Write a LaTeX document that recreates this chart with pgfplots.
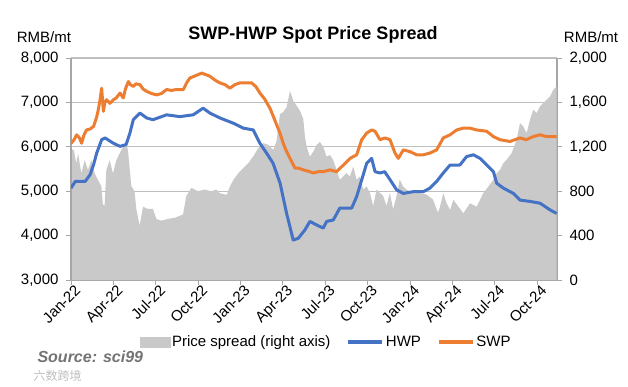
\documentclass[border=0pt]{standalone}
\usepackage{pgfplots}
\pgfplotsset{compat=1.18}
\usepackage{pgfplotstable}
\usepackage{fontspec}
\setmainfont{Liberation Sans}
\newfontfamily\cjk{Noto Sans CJK SC}
\definecolor{hwpblue}{HTML}{4472C4}
\definecolor{swporange}{HTML}{ED7D31}
\definecolor{spreadgray}{HTML}{C9C9C9}
\definecolor{axisgray}{HTML}{A6A6A6}
\definecolor{gridgray}{HTML}{BFBFBF}

\pgfplotstableread{
m v
0 6080
0.2 6150
0.4 6270
0.6 6200
0.75 6080
0.9 6250
1.1 6380
1.35 6400
1.6 6460
1.8 6650
1.93 6830
2.05 7050
2.17 7320
2.29 6800
2.4 7000
2.52 7060
2.75 6980
3.0 7060
3.2 7100
3.47 7210
3.6 7150
3.7 7100
3.85 7300
4.06 7470
4.2 7400
4.41 7360
4.6 7420
4.88 7400
5.1 7300
5.35 7250
5.7 7200
6.06 7170
6.4 7200
6.77 7290
7.1 7270
7.48 7290
7.95 7290
8.2 7450
8.42 7550
8.8 7600
9.25 7660
9.5 7630
9.83 7590
10.2 7500
10.54 7440
10.9 7400
11.25 7320
11.6 7400
11.96 7440
12.4 7440
12.78 7440
13.1 7350
13.37 7210
13.7 7080
14.08 6870
14.3 6700
14.55 6500
14.8 6300
15.02 6080
15.25 5900
15.5 5740
15.85 5520
16.1 5520
16.44 5480
16.8 5450
17.15 5410
17.5 5440
17.85 5440
18.33 5480
18.8 5440
19.28 5590
19.75 5740
20.22 5820
20.58 6160
20.93 6310
21.28 6380
21.52 6350
21.87 6160
22.23 6200
22.58 6160
22.93 5860
23.17 5740
23.52 5930
24.0 5890
24.47 5820
24.94 5820
25.41 5860
25.88 5930
26.35 6200
26.83 6270
27.3 6380
27.77 6420
28.24 6420
28.7 6380
29.42 6350
29.9 6230
30.36 6160
31.07 6120
31.78 6200
32.22 6160
32.72 6230
33.18 6270
33.66 6230
34.37 6230
}\swp

\pgfplotstableread{
m v
0 5070
0.3 5220
1.0 5220
1.35 5370
1.6 5600
1.82 5860
2.17 6160
2.41 6200
3.0 6080
3.47 6010
3.9 6050
4.17 6310
4.41 6610
4.88 6760
5.35 6650
5.8 6610
6.77 6720
7.7 6680
8.65 6720
9.35 6870
9.83 6760
10.54 6650
11.5 6530
12.2 6420
12.9 6380
13.37 6080
13.84 5860
14.3 5630
14.8 5180
15.26 4500
15.73 3900
16.09 3940
16.56 4130
16.91 4320
17.38 4240
17.85 4170
18.1 4320
18.56 4350
19.03 4620
19.5 4620
19.87 4620
20.22 4880
20.58 5260
20.93 5630
21.28 5740
21.52 5440
21.87 5410
22.2 5440
22.58 5260
23.05 5030
23.52 4950
24.23 4990
24.94 4990
25.41 5070
25.88 5220
26.35 5410
26.83 5590
27.53 5590
28.0 5780
28.48 5820
28.95 5740
29.42 5590
29.9 5440
30.13 5180
30.6 5070
31.31 4950
31.78 4800
32.49 4770
33.2 4730
33.9 4580
34.37 4500
}\hwp

\pgfplotstableread{
m v
0 1180
0.2 1170
0.38 1050
0.5 1140
0.73 960
0.97 1080
1.2 990
1.44 1080
1.68 960
1.91 900
2.15 845
2.26 680
2.38 670
2.5 990
2.74 1080
2.97 960
3.21 1080
3.44 1140
3.68 1200
3.92 1230
4.03 1170
4.27 845
4.5 800
4.62 640
4.86 490
5.1 660
5.45 640
5.8 640
6.04 550
6.39 535
6.86 550
7.34 560
7.93 590
8.16 755
8.52 830
8.99 800
9.46 815
9.93 800
10.29 815
10.54 782
11.01 767
11.25 842
11.49 902
11.84 962
12.19 1007
12.55 1053
12.9 1113
13.25 1188
13.61 1233
13.96 1218
14.32 1173
14.55 1250
14.79 1496
15.0 1511
15.26 1556
15.5 1704
15.73 1615
15.97 1570
16.2 1526
16.44 1452
16.56 1289
16.68 1200
16.91 1111
17.15 1156
17.38 1215
17.62 1244
17.85 1200
18.09 1111
18.33 1126
18.56 1081
18.8 993
19.03 904
19.27 933
19.5 963
19.74 933
19.98 1022
20.22 904
20.45 933
20.69 815
20.92 844
21.16 785
21.39 667
21.63 815
21.86 785
22.1 756
22.33 667
22.57 785
22.8 637
23.04 756
23.27 904
23.5 844
23.74 815
24.21 785
24.68 785
25.15 770
25.62 726
25.97 607
26.12 661
26.35 782
26.59 691
26.83 631
27.06 722
27.42 661
27.77 601
28.24 691
28.71 661
29.18 782
29.54 842
29.89 902
30.13 962
30.36 992
30.6 1053
30.83 1083
31.19 1143
31.54 1263
31.78 1413
32.01 1383
32.25 1323
32.49 1444
32.72 1534
32.96 1504
33.2 1564
33.43 1594
33.67 1624
33.9 1654
34.14 1714
34.37 1744
}\spread

\begin{document}
\begin{tikzpicture}
\path[use as bounding box] (0pt,0pt) rectangle (628pt,386pt);
% right axis with spread area and grid
\begin{axis}[
  at={(71pt,106pt)}, anchor=south west,
  scale only axis, width=486pt, height=222pt,
  xmin=0, xmax=34.4, ymin=0, ymax=2000,
  axis y line*=right, axis x line*=bottom,
  axis line style={color=axisgray, line width=1.3pt},
  ytick={0,400,...,2000},
  xtick={0,3,...,33},
  xticklabels={Jan-22,Apr-22,Jul-22,Oct-22,Jan-23,Apr-23,Jul-23,Oct-23,Jan-24,Apr-24,Jul-24,Oct-24},
  tick align=outside, major tick length=5pt,
  major tick style={color=axisgray, line width=1pt},
  ymajorgrids, grid style={color=gridgray, line width=1.2pt},
  /pgf/number format/assume math mode=true,
  /pgf/number format/1000 sep={,},
  yticklabel style={font=\fontsize{15}{18}\selectfont, xshift=4pt},
  xticklabel style={font=\fontsize{15}{18}\selectfont, rotate=45, anchor=north east, xshift=6pt, yshift=2pt},
]
\addplot[fill=spreadgray, draw=none] table[x=m, y=v] {\spread} \closedcycle;
\end{axis}
% left axis with lines
\begin{axis}[
  at={(71pt,106pt)}, anchor=south west,
  scale only axis, width=486pt, height=222pt,
  xmin=0, xmax=34.4, ymin=3000, ymax=8000,
  axis y line*=left, axis x line=none,
  axis line style={color=axisgray, line width=1.3pt},
  ytick={3000,4000,...,8000},
  tick align=outside, major tick length=5pt,
  major tick style={color=axisgray, line width=1pt},
  /pgf/number format/assume math mode=true,
  /pgf/number format/1000 sep={,},
  yticklabel style={font=\fontsize{15}{18}\selectfont, xshift=-4pt},
  legend columns=3,
  legend style={draw=none, fill=none, at={(0.525,-0.28)}, anchor=center,
    font=\fontsize{15}{18}\selectfont,
    /tikz/every even column/.append style={column sep=14pt}},
]
\addlegendimage{legend image code/.code={\fill[spreadgray] (0pt,-5pt) rectangle (30pt,5pt);}}
\addlegendentry{Price spread (right axis)}
\addplot[color=hwpblue, line width=3pt, line join=round,
  legend image code/.code={\draw[hwpblue, line width=3.5pt] (0pt,0pt) -- (34pt,0pt);}]
  table[x=m, y=v] {\hwp};
\addlegendentry{HWP}
\addplot[color=swporange, line width=3pt, line join=round,
  legend image code/.code={\draw[swporange, line width=3.5pt] (0pt,0pt) -- (34pt,0pt);}]
  table[x=m, y=v] {\swp};
\addlegendentry{SWP}
\end{axis}
\node[font=\fontsize{18}{21}\selectfont\bfseries] at (313pt,351pt) {SWP-HWP Spot Price Spread};
\node[font=\fontsize{15}{18}\selectfont] at (44pt,349pt) {RMB/mt};
\node[font=\fontsize{15}{18}\selectfont] at (591pt,349pt) {RMB/mt};
\node[font=\fontsize{16}{19}\selectfont\bfseries\itshape, text=black!55, anchor=west] at (34pt,29pt) {Source: sci99};
\node[font=\fontsize{12}{14}\selectfont\cjk, text=black!25, anchor=west] at (30pt,10pt) {六数跨境};
\end{tikzpicture}
\end{document}
